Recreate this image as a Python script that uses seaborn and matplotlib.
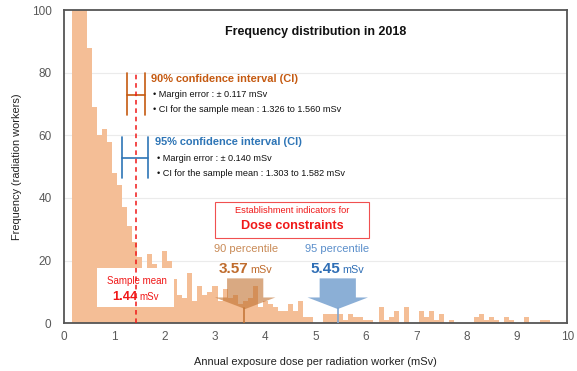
import numpy as np
import pandas as pd
import matplotlib
matplotlib.use("Agg")
import matplotlib.pyplot as plt
from matplotlib.patches import Polygon, Rectangle
import seaborn as sns

# histogram counts, bins of 0.1 mSv starting at 0.15 mSv (centres 0.2 ... 9.6)
bin_start = 0.15
bin_width = 0.1
counts = [150, 130, 112, 88, 69, 60, 62, 58, 48, 44,
          37, 31, 26, 21, 16, 22, 19, 16, 23, 20,
          14, 9, 8, 16, 7, 12, 9, 10, 12, 7,
          11, 8, 9, 6, 7, 8, 12, 5, 7, 6,
          5, 4, 4, 6, 4, 7, 2, 2, 0, 0,
          3, 3, 3, 3, 1, 3, 2, 2, 1, 1,
          0, 5, 1, 2, 4, 0, 5, 0, 0, 4,
          2, 4, 1, 3, 0, 1, 0, 0, 0, 0,
          2, 3, 1, 2, 1, 0, 2, 1, 0, 0,
          2, 0, 0, 1, 1]

# summary values
sample_mean = 1.44
p90 = 3.57
p95 = 5.45
ci90 = [1.326, 1.560, 0.117]
ci95 = [1.303, 1.582, 0.140]

xticks = [0, 1, 2, 3, 4, 5, 6, 7, 8, 9, 10]
yticks = [0, 20, 40, 60, 80, 100]

nb = len(counts)
df = pd.DataFrame({'dose': np.round(bin_start + bin_width * (np.arange(nb) + 0.5), 3), 'n': counts})

sns.set_theme(style="white")
plt.rcParams['font.family'] = ['Liberation Sans', 'DejaVu Sans']

bar_col = '#F4BE96'
brown = '#C55A11'
blue = '#2E75B6'
red = '#F01818'
grey = '#595959'

fig = plt.figure(figsize=(5.77, 3.71), dpi=100)
ax = fig.add_axes([0.111, 0.129, 0.872, 0.844])

sns.histplot(data=df, x='dose', weights='n', binwidth=bin_width,
             binrange=(bin_start, round(bin_start + bin_width * nb, 3)),
             color=bar_col, alpha=1, linewidth=0, ax=ax, zorder=2)

ax.set_xlim(0, 10)
ax.set_ylim(0, 100)
ax.set_xticks(xticks)
ax.set_xticks(np.arange(0.5, 10, 1), minor=True)
ax.set_yticks(yticks)
ax.tick_params(axis='both', which='both', direction='in', colors='#333333',
               labelcolor=grey, labelsize=8.5, length=3, width=1)
ax.tick_params(axis='x', pad=6)
ax.tick_params(axis='y', pad=9)
for s in ax.spines.values():
    s.set_color('#555555')
    s.set_linewidth(1.3)
for yv in [20, 40, 60, 80]:
    ax.axhline(yv, color='#EBEBEB', lw=0.8, zorder=0)

ax.set_xlabel('Annual exposure dose per radiation worker (mSv)', fontsize=7.9, color='#222222', labelpad=10)
ax.set_ylabel('Frequency (radiation workers)', fontsize=7.9, color='#222222', labelpad=7)

ax.text(5.0, 93, 'Frequency distribution in 2018', ha='center', va='center',
        fontsize=9, fontweight='bold', color='#111111')

# confidence interval markers
ax.plot([1.25, 1.25], [66.5, 80], color=brown, lw=1.2, zorder=4)
ax.plot([1.60, 1.60], [66.5, 80], color=brown, lw=1.2, zorder=4)
ax.plot([1.25, 1.60], [73, 73], color=brown, lw=1.2, zorder=4)
ax.plot([1.15, 1.15], [46.2, 59.5], color=blue, lw=1.2, zorder=4)
ax.plot([1.67, 1.67], [46.2, 59.5], color=blue, lw=1.2, zorder=4)
ax.plot([1.15, 1.67], [52.6, 52.6], color=blue, lw=1.2, zorder=4)

ax.text(1.73, 78, '90% confidence interval (CI)', fontsize=7.9, fontweight='bold',
        color=brown, va='center')
ax.text(1.77, 73, '\u2022 Margin error : \u00b1 %.3f mSv' % ci90[2], fontsize=6.6,
        color='#111111', va='center')
ax.text(1.77, 68.2, '\u2022 CI for the sample mean : %.3f to %.3f mSv' % (ci90[0], ci90[1]),
        fontsize=6.6, color='#111111', va='center')
ax.text(1.81, 57.8, '95% confidence interval (CI)', fontsize=7.9, fontweight='bold',
        color=blue, va='center')
ax.text(1.85, 52.7, '\u2022 Margin error : \u00b1 %.3f mSv' % ci95[2], fontsize=6.6,
        color='#111111', va='center')
ax.text(1.85, 47.8, '\u2022 CI for the sample mean : %.3f to %.3f mSv' % (ci95[0], ci95[1]),
        fontsize=6.6, color='#111111', va='center')

# sample mean box and dashed line
ax.add_patch(Rectangle((0.65, 5.1), 1.53, 12.5, facecolor='white', edgecolor='none', zorder=5))
ax.plot([sample_mean, sample_mean], [0, 80], color=red, lw=1.1, ls=(0, (3, 2.5)), zorder=6)
ax.text(sample_mean, 13.4, 'Sample mean', color=red, fontsize=7, ha='center', va='center', zorder=7)
ax.text(sample_mean + 0.01, 8.3, '%.2f' % sample_mean, color=red, fontsize=9.3,
        fontweight='bold', ha='right', va='center', zorder=7)
ax.text(sample_mean + 0.05, 8.3, 'mSv', color=red, fontsize=7, ha='left', va='center', zorder=7)

# dose constraint box
ax.add_patch(Rectangle((3.01, 27.1), 3.05, 11.7, facecolor='white', edgecolor='#F05050', lw=0.8, zorder=5))
ax.text(4.53, 35.9, 'Establishment indicators for', color=red, fontsize=6.7, ha='center', va='center', zorder=6)
ax.text(4.53, 31.1, 'Dose constraints', color=red, fontsize=9.1, fontweight='bold',
        ha='center', va='center', zorder=6)


def pct_arrow(xc, xv, col, alpha):
    shape = [(xc - 0.36, 14.3), (xc + 0.36, 14.3), (xc + 0.36, 8.2), (xc + 0.6, 8.2),
             (xc, 4.5), (xc - 0.6, 8.2), (xc - 0.36, 8.2)]
    ax.add_patch(Polygon(shape, closed=True, facecolor=col, edgecolor='none', alpha=alpha, zorder=4))
    ax.plot([xv, xv], [0, 4.8], color=col, lw=1.2, alpha=min(1, alpha + 0.3), zorder=4)


pct_arrow(3.6, p90, '#C0702F', 0.6)
pct_arrow(5.44, p95, '#7FA6D2', 0.9)

ax.text(3.62, 23.6, '90 percentile', color='#C98B57', fontsize=8, ha='center', va='center')
ax.text(3.67, 17.3, '%.2f' % p90, color='#BF6B2C', fontsize=11, fontweight='bold', ha='right', va='center')
ax.text(3.71, 17.0, 'mSv', color='#BF6B2C', fontsize=7.8, ha='left', va='center')
ax.text(5.42, 23.6, '95 percentile', color='#5B8FCB', fontsize=8, ha='center', va='center')
ax.text(5.48, 17.3, '%.2f' % p95, color='#2F6EB5', fontsize=11, fontweight='bold', ha='right', va='center')
ax.text(5.52, 17.0, 'mSv', color='#2F6EB5', fontsize=7.8, ha='left', va='center')

plt.savefig('out.png', dpi=100)
